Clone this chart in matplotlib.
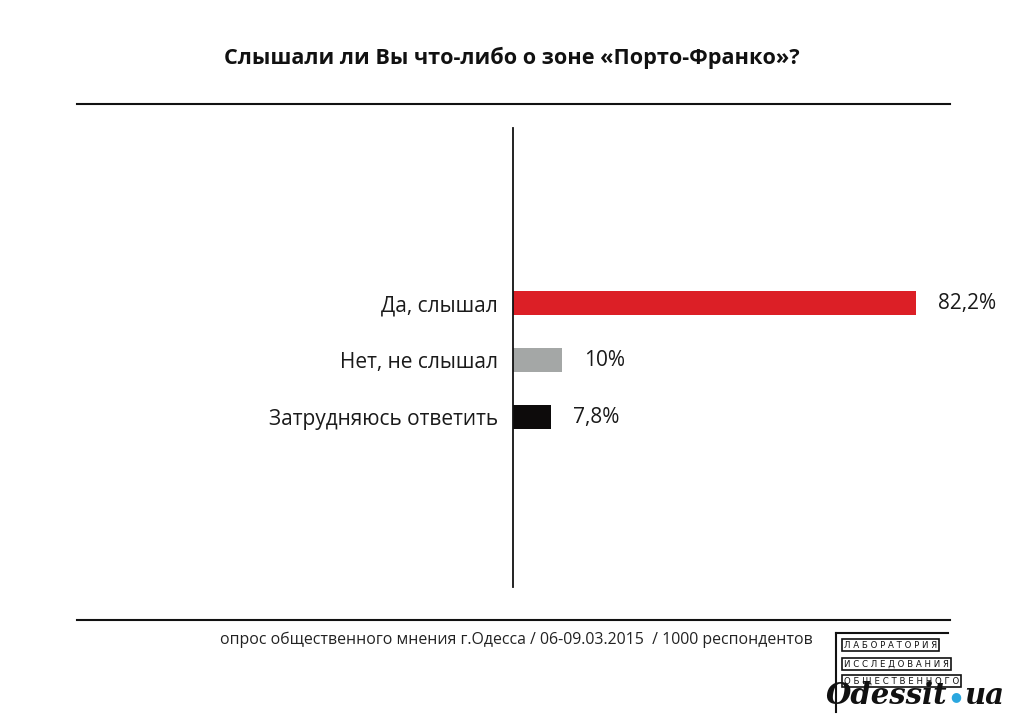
import matplotlib.pyplot as plt
from matplotlib.lines import Line2D

plt.rcParams['font.family'] = ['Open Sans', 'DejaVu Sans']

categories = ['Да, слышал', 'Нет, не слышал', 'Затрудняюсь ответить']
values = [82.2, 10, 7.8]
value_labels = ['82,2%', '10%', '7,8%']
colors = ['#dc1f26', '#a4a7a6', '#0d0b0b']

W, H = 1024, 725
fig = plt.figure(figsize=(W / 100, H / 100), dpi=100)
fig.patch.set_facecolor('white')


def fx(px):
    return px / W


def fy(py):
    return 1 - py / H


ax = fig.add_axes([fx(513), fy(587), fx(490), (587 - 128) / H])
ypos = list(range(len(categories)))
ax.barh(ypos, values, height=0.42, color=colors)
ax.set_xlim(0, 100)
ax.set_ylim(4.98, -3.07)
for s in ['top', 'right', 'bottom']:
    ax.spines[s].set_visible(False)
ax.spines['left'].set_linewidth(1.3)
ax.spines['left'].set_color('#111111')
ax.set_xticks([])
ax.set_yticks(ypos)
ax.set_yticklabels(categories, fontsize=15, color='#1a1a1a')
ax.tick_params(axis='y', length=0, pad=11)
for y, v, lab in zip(ypos, values, value_labels):
    ax.annotate(lab, (v, y), xytext=(22, 0), textcoords='offset pixels',
                va='center', ha='left', fontsize=15, color='#1a1a1a')

fig.text(0.5, fy(58), 'Слышали ли Вы что-либо о зоне «Порто-Франко»?',
         ha='center', va='center', fontsize=15.6, fontweight='bold', color='#111111')

for py in (104, 620):
    fig.add_artist(Line2D([fx(77), fx(950)], [fy(py), fy(py)], color='#111111', lw=1.5))

fig.text(fx(220), fy(640), 'опрос общественного мнения г.Одесса / 06-09.03.2015  / 1000 респондентов',
         ha='left', va='center', fontsize=11.4, color='#222222')

# logo
fig.add_artist(Line2D([fx(836), fx(836)], [fy(633), fy(712)], color='#111111', lw=1.5))
fig.add_artist(Line2D([fx(836), fx(948)], [fy(633), fy(633)], color='#111111', lw=1.5))
for py, txt in zip((645, 664, 681), ('Л А Б О Р А Т О Р И Я', 'И С С Л Е Д О В А Н И Я', 'О Б Щ Е С Т В Е Н Н О Г О')):
    fig.text(fx(844), fy(py), txt, ha='left', va='center', fontsize=6.2,
             family=['DejaVu Sans Condensed', 'DejaVu Sans'], color='#111111',
             bbox=dict(boxstyle='square,pad=0.2', fc='white', ec='#111111', lw=1.2))
fig.text(fx(826), fy(695), 'Odessit', ha='left', va='center', fontsize=21,
         fontweight='bold', style='italic', family=['DejaVu Serif'], color='#111111')
fig.text(fx(950), fy(697), '●', ha='left', va='center', fontsize=9, color='#2aa7df',
         family=['DejaVu Sans'])
fig.text(fx(964), fy(695), 'ua', ha='left', va='center', fontsize=21,
         fontweight='bold', style='italic', family=['DejaVu Serif'], color='#111111')

fig.savefig('out.png', dpi=100, facecolor='white')
